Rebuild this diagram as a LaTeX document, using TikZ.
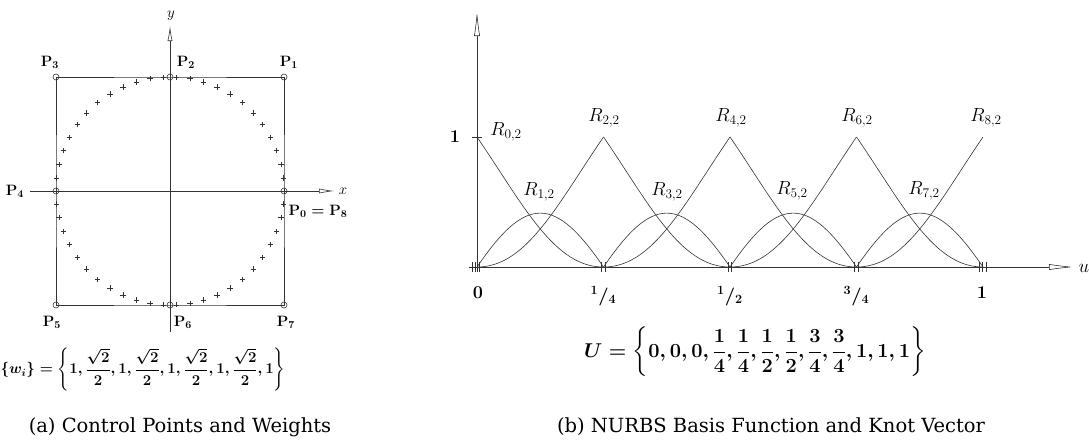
\RequirePackage{fix-cm}
\documentclass[tikz,border=0pt]{standalone}
\usepackage{amsmath}
\usepackage[no-math]{fontspec}
\newfontfamily\capfont{DejaVu Serif}
\usetikzlibrary{arrows.meta,shapes.misc}
\newcommand\nfr[2]{${}^{#1}/{}_{#2}$}
\begin{document}
\begin{tikzpicture}[x=1pt,y=-1pt,
  ln/.style={line width=0.6pt, draw=black!80},
  axisL/.style={ln, -{Latex[open,length=15pt,width=5pt]}},
  axisR/.style={ln, -{Latex[open,length=25pt,width=6pt]}},
  cp/.style={circle, draw=black!80, line width=0.6pt, minimum size=6pt, inner sep=0pt},
  pt/.style={cross out, draw=black!80, rotate=45, minimum size=3.2pt, inner sep=0pt, line width=0.6pt},
  plbl/.style={inner sep=0pt, font=\fontsize{15}{17}\selectfont\boldmath},
  rlbl/.style={inner sep=0pt, font=\fontsize{19}{21}\selectfont},
  tlbl/.style={inner sep=0pt, font=\fontsize{18}{20}\selectfont\bfseries\boldmath},
  captext/.style={inner sep=0pt, font=\fontsize{19.5}{22}\capfont},
]
\useasboundingbox (0,0) rectangle (1089,447);

% ---------- (a) control points ----------
\coordinate (P0) at (284,191);
\coordinate (P1) at (284,77);
\coordinate (P2) at (170,77);
\coordinate (P3) at (56,77);
\coordinate (P4) at (56,191);
\coordinate (P5) at (56,305);
\coordinate (P6) at (170,305);
\coordinate (P7) at (284,305);
\draw[ln] (P0) -- (P1) -- (P2) -- (P3) -- (P4) -- (P5) -- (P6) -- (P7) -- cycle;
\coordinate (xs) at (30,191);
\coordinate (xe) at (334,191);
\coordinate (ys) at (170,332);
\coordinate (ye) at (170,26);
\draw[axisL] (xs) -- (xe);
\draw[axisL] (ys) -- (ye);
\node[inner sep=0pt, font=\fontsize{15}{17}\selectfont] (xl) at (343,191) {$x$};
\node[inner sep=0pt, font=\fontsize{15}{17}\selectfont] (yl) at (171,16) {$y$};
\foreach \k in {0,...,49}{
  \pgfmathsetmacro\uu{4*\k/50}
  \pgfmathsetmacro\q{floor(\uu)}
  \pgfmathsetmacro\t{\uu-\q}
  \pgfmathsetmacro\den{1-2*\t*(1-\t)*0.29289}
  \pgfmathsetmacro\xx{((1-\t)*(1-\t)+2*\t*(1-\t)*0.70711)/\den}
  \pgfmathsetmacro\yy{(2*\t*(1-\t)*0.70711+\t*\t)/\den}
  \pgfmathsetmacro\ang{atan2(\yy,\xx)+90*\q}
  \node[pt] (c\k) at ({170+114*cos(\ang)},{191-114*sin(\ang)}) {};
}
\foreach \i in {0,...,7}{ \node[cp] (cp\i) at (P\i) {}; }
\node[plbl] (L3) at (50,62) {$\mathbf{P}_3$};
\node[plbl] (L2) at (186,62) {$\mathbf{P}_2$};
\node[plbl] (L1) at (289,62) {$\mathbf{P}_1$};
\node[plbl] (L4) at (15,191) {$\mathbf{P}_4$};
\node[plbl] (L0) at (318,211) {$\mathbf{P}_0=\mathbf{P}_8$};
\node[plbl] (L5) at (52,322) {$\mathbf{P}_5$};
\node[plbl] (L6) at (183,322) {$\mathbf{P}_6$};
\node[plbl] (L7) at (286,322) {$\mathbf{P}_7$};
\node[plbl] (W) at (143,370) {$\{w_i\}=\left\{1,\dfrac{\sqrt{2}}{2},1,\dfrac{\sqrt{2}}{2},1,\dfrac{\sqrt{2}}{2},1,\dfrac{\sqrt{2}}{2},1\right\}$};
\node[captext] (capa) at (180,427) {(a) Control Points and Weights};

% ---------- (b) basis functions ----------
\def\Xo{477}\def\Q{126.5}\def\Yo{267}\def\H{130}
\coordinate (us) at (469,267);
\coordinate (ue) at (1074,267);
\coordinate (vs) at (477,272);
\coordinate (ve) at (477,11);
\draw[axisR] (us) -- (ue);
\draw[axisR] (vs) -- (ve);
\node[inner sep=0pt, font=\fontsize{19}{21}\selectfont] (ul) at (1084,268) {$u$};
\draw[ln] (472,137) -- (482,137);
\node[tlbl] (one) at (455,137) {1};
\foreach \q in {0,...,3}{
  \draw[ln] plot[domain=0:1,samples=60,smooth] ({\Xo+(\q+\x)*\Q},{\Yo-\H*2*\x*(1-\x)*0.70711/(1-2*\x*(1-\x)*0.29289)});
  \draw[ln] plot[domain=0:1,samples=60,smooth] ({\Xo+(\q+\x)*\Q},{\Yo-\H*\x*\x/(1-2*\x*(1-\x)*0.29289)});
  \draw[ln] plot[domain=0:1,samples=60,smooth] ({\Xo+(\q+\x)*\Q},{\Yo-\H*(1-\x)*(1-\x)/(1-2*\x*(1-\x)*0.29289)});
}
% knot ticks
\foreach \xk in {472,475.5,479, 601.75,605.25, 728.25,731.75, 854.75,858.25, 979,982.5,986}{
  \draw[ln] (\xk,262) -- (\xk,272);
}
\node[tlbl] (k0) at (478,293) {0};
\node[tlbl] (k1) at (603.5,296) {\nfr{1}{4}};
\node[tlbl] (k2) at (730,296) {\nfr{1}{2}};
\node[tlbl] (k3) at (856.5,296) {\nfr{3}{4}};
\node[tlbl] (k4) at (982,293) {1};
\node[rlbl] (R0) at (506,132) {$R_{0,2}$};
\node[rlbl] (R2) at (604,118) {$R_{2,2}$};
\node[rlbl] (R4) at (731,118) {$R_{4,2}$};
\node[rlbl] (R6) at (857,118) {$R_{6,2}$};
\node[rlbl] (R8) at (986,118) {$R_{8,2}$};
\node[rlbl] (R1) at (539,192) {$R_{1,2}$};
\node[rlbl] (R3) at (667,192) {$R_{3,2}$};
\node[rlbl] (R5) at (792,191) {$R_{5,2}$};
\node[rlbl] (R7) at (924,191) {$R_{7,2}$};
\node[inner sep=0pt, font=\fontsize{20}{22}\selectfont\boldmath] (U) at (755,352) {$U=\left\{0,0,0,\dfrac{1}{4},\dfrac{1}{4},\dfrac{1}{2},\dfrac{1}{2},\dfrac{3}{4},\dfrac{3}{4},1,1,1\right\}$};
\node[captext] (capb) at (771,427) {(b) NURBS Basis Function and Knot Vector};
\end{tikzpicture}
\end{document}
